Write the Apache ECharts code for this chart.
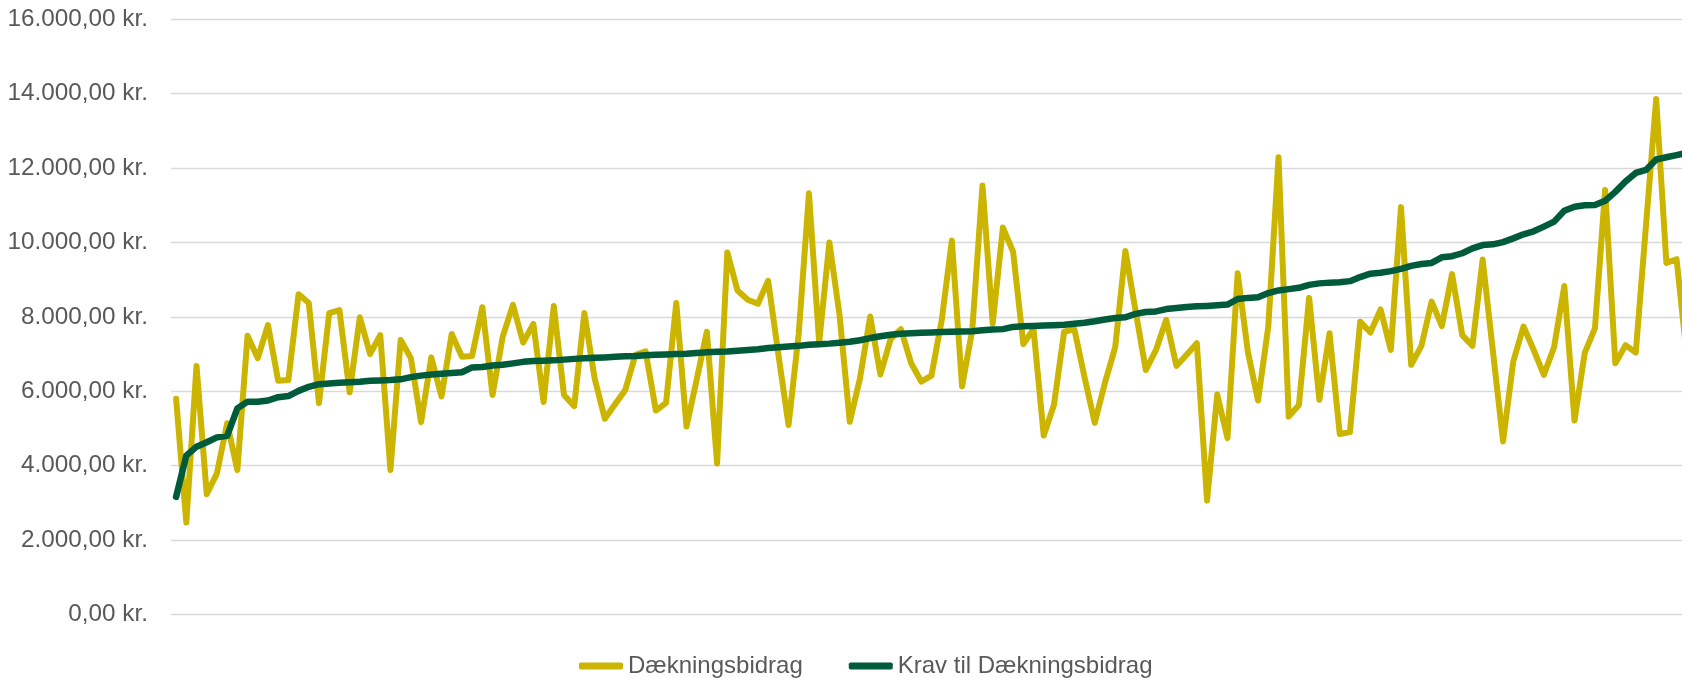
<!DOCTYPE html>
<html>
<head>
<meta charset="utf-8">
<script src="https://cdn.jsdelivr.net/npm/echarts@6/dist/echarts.min.js"></script>
<style>
html,body{margin:0;padding:0;background:#fff;}
#chart{width:1682px;height:678px;}
</style>
</head>
<body>
<div id="chart"></div>
<script>
// ---- data ----
const seriesNames = ['Dækningsbidrag', 'Krav til Dækningsbidrag'];

const daekningsbidrag = [
  5800, 2470, 6680, 3230, 3790, 5140, 3880, 7490, 6890, 7780,
  6280, 6300, 8610, 8370, 5680, 8100, 8180, 5970, 7990, 7000,
  7510, 3880, 7380, 6890, 5170, 6910, 5860, 7540, 6930, 6950,
  8260, 5900, 7470, 8320, 7310, 7810, 5710, 8290, 5900, 5600,
  8100, 6350, 5260, 5650, 6030, 6980, 7070, 5480, 5690, 8370,
  5050, 6310, 7600, 4060, 9730, 8710, 8460, 8350, 8970, 7000,
  5090, 7560, 11320, 7310, 10000, 8040, 5180, 6350, 8010, 6450,
  7400, 7670, 6760, 6260, 6420, 7900, 10050, 6130, 7650, 11530,
  7820, 10400, 9750, 7270, 7670, 4810, 5630, 7600, 7670, 6370,
  5150, 6230, 7180, 9770, 8160, 6570, 7110, 7920, 6680, 6980,
  7290, 3060, 5910, 4740, 9170, 7060, 5750, 7740, 12290, 5320,
  5630, 8510, 5770, 7560, 4850, 4900, 7870, 7580, 8200, 7110,
  10950, 6710, 7220, 8410, 7750, 9150, 7510, 7220, 9540, 7090,
  4650, 6800, 7740, 7110, 6440, 7190, 8830, 5210, 7030, 7690,
  11410, 6750, 7240, 7040, 10450, 13860, 9450, 9550, 6950
];

const kravTilDaekningsbidrag = [
  3160, 4270, 4510, 4630, 4760, 4800, 5540, 5720, 5720, 5750,
  5840, 5870, 6010, 6120, 6190, 6210, 6230, 6240, 6255, 6280,
  6290, 6300, 6320, 6380, 6420, 6450, 6470, 6490, 6510, 6640,
  6650, 6690, 6710, 6750, 6790, 6810, 6820, 6830, 6850, 6870,
  6890, 6900, 6910, 6925, 6940, 6950, 6970, 6980, 6990, 7000,
  7010, 7030, 7050, 7060, 7070, 7090, 7110, 7130, 7160, 7180,
  7200, 7220, 7250, 7265, 7280, 7305, 7330, 7370, 7430, 7480,
  7520, 7545, 7560, 7570, 7580, 7590, 7600, 7605, 7615, 7640,
  7660, 7670, 7730, 7745, 7755, 7765, 7775, 7790, 7815, 7840,
  7880, 7930, 7970, 7990, 8080, 8130, 8145, 8210, 8240, 8265,
  8285, 8295, 8310, 8330, 8480, 8510, 8525, 8640, 8710, 8745,
  8780, 8860, 8900, 8920, 8930, 8960, 9070, 9160, 9185, 9230,
  9290, 9370, 9420, 9450, 9600, 9630, 9710, 9840, 9930, 9950,
  10010, 10110, 10220, 10300, 10425, 10560, 10850, 10960, 11000, 11010,
  11120, 11360, 11640, 11870, 11950, 12230, 12290, 12350, 12410
];

const categories = daekningsbidrag.map((_, i) => String(i + 1));

const yTickValues = [0, 2000, 4000, 6000, 8000, 10000, 12000, 14000, 16000];
const yTickLabels = ['0,00 kr.', '2.000,00 kr.', '4.000,00 kr.', '6.000,00 kr.', '8.000,00 kr.',
                     '10.000,00 kr.', '12.000,00 kr.', '14.000,00 kr.', '16.000,00 kr.'];

// ---- chart ----
const chart = echarts.init(document.getElementById('chart'), null, {renderer: 'canvas'});
const FONT = "'Liberation Sans', Arial, sans-serif";
const TEXT = '#595959';
const YELLOW = '#CBB500';
const GREEN = '#005B3B';

chart.setOption({
  animation: false,
  backgroundColor: '#ffffff',
  textStyle: {fontFamily: FONT},
  grid: {
    left: 171,
    right: -9.9,
    top: 19.3,
    bottom: 63.6,
    containLabel: false,
    outerBoundsMode: 'none'
  },
  legend: {
    left: 574,
    top: 649,
    itemWidth: 44,
    itemHeight: 7,
    itemGap: 46,
    textStyle: {color: TEXT, fontSize: 24, fontFamily: FONT},
    data: [
      {name: seriesNames[0], icon: 'roundRect'},
      {name: seriesNames[1], icon: 'roundRect'}
    ]
  },
  xAxis: {
    type: 'category',
    data: categories,
    boundaryGap: true,
    axisLine: {show: false},
    axisTick: {show: false},
    axisLabel: {show: false},
    splitLine: {show: false}
  },
  yAxis: {
    type: 'value',
    min: 0,
    max: 16000,
    interval: 2000,
    axisLine: {show: false},
    axisTick: {show: false},
    axisLabel: {
      color: TEXT,
      fontSize: 24.3,
      fontFamily: FONT,
      margin: 23,
      formatter: function (v) {
        const i = yTickValues.indexOf(v);
        return i >= 0 ? yTickLabels[i] : '';
      }
    },
    splitLine: {lineStyle: {color: '#D9D9D9', width: 1.3}}
  },
  series: [
    {
      name: seriesNames[0],
      type: 'line',
      data: daekningsbidrag,
      symbol: 'none',
      itemStyle: {color: YELLOW},
      lineStyle: {color: YELLOW, width: 6, join: 'round', cap: 'round'},
      z: 2
    },
    {
      name: seriesNames[1],
      type: 'line',
      data: kravTilDaekningsbidrag,
      symbol: 'none',
      itemStyle: {color: GREEN},
      lineStyle: {color: GREEN, width: 6.5, join: 'round', cap: 'round'},
      z: 3
    }
  ]
});
</script>
</body>
</html>
